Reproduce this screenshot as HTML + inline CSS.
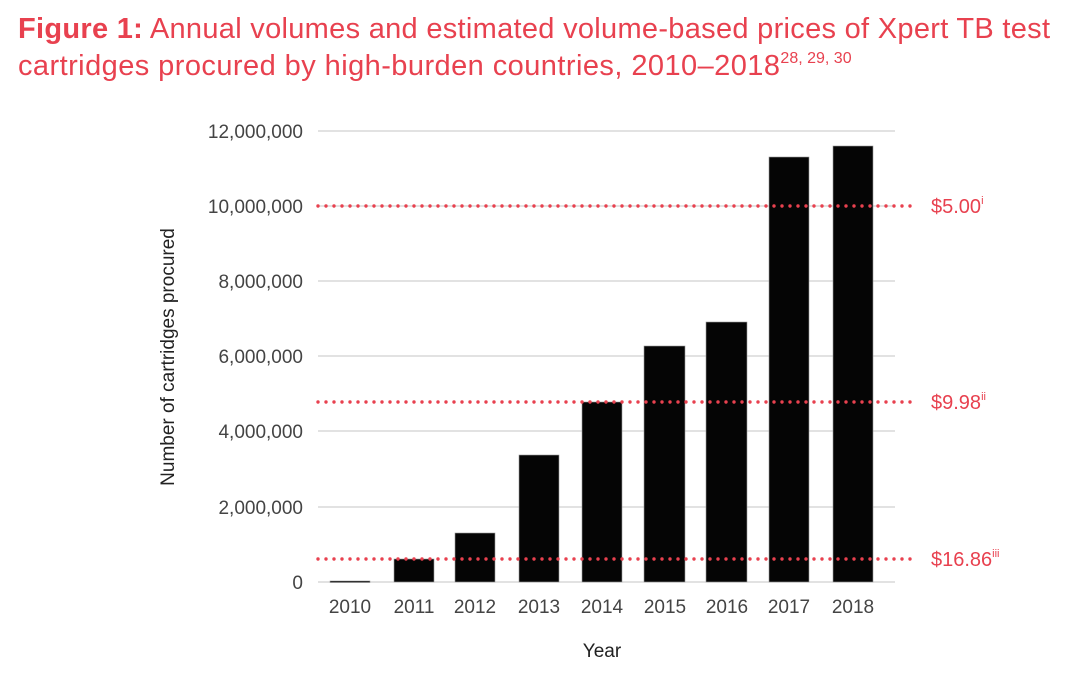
<!DOCTYPE html>
<html><head><meta charset="utf-8"><style>
body{margin:0;background:#fff;width:1080px;height:669px;overflow:hidden;font-family:"Liberation Sans",sans-serif}
</style></head><body>
<svg width="1080" height="669" xmlns="http://www.w3.org/2000/svg" font-family="Liberation Sans, sans-serif">
<text x="18" y="38" font-size="29" fill="#e8414f" textLength="1032" lengthAdjust="spacing"><tspan font-weight="bold">Figure 1:</tspan> Annual volumes and estimated volume-based prices of Xpert TB test</text>
<text x="18" y="75" font-size="29" fill="#e8414f"><tspan textLength="762" lengthAdjust="spacing">cartridges procured by high-burden countries, 2010–2018</tspan><tspan font-size="16" dy="-12">28, 29, 30</tspan></text>
<g stroke="#d9d9d9" stroke-width="1.5">
<line x1="318" x2="895" y1="131" y2="131"/><line x1="318" x2="895" y1="206" y2="206"/><line x1="318" x2="895" y1="281" y2="281"/><line x1="318" x2="895" y1="356" y2="356"/><line x1="318" x2="895" y1="431" y2="431"/><line x1="318" x2="895" y1="507" y2="507"/><line x1="318" x2="895" y1="582" y2="582"/>
</g>
<g font-size="19" fill="#444" text-anchor="end">
<text x="303" y="138">12,000,000</text><text x="303" y="213">10,000,000</text><text x="303" y="288">8,000,000</text><text x="303" y="363">6,000,000</text><text x="303" y="438">4,000,000</text><text x="303" y="514">2,000,000</text><text x="303" y="589">0</text>
</g>
<g fill="#050505" stroke="#999" stroke-width="0.6">
<rect x="330" y="581" width="40" height="1.5"/>
<rect x="394" y="559" width="40" height="23"/>
<rect x="455" y="533" width="40" height="49"/>
<rect x="519" y="455" width="40" height="127"/>
<rect x="582" y="402" width="40" height="180"/>
<rect x="644" y="346" width="41" height="236"/>
<rect x="706" y="322" width="41" height="260"/>
<rect x="769" y="157" width="40" height="425"/>
<rect x="833" y="146" width="40" height="436"/>
</g>
<g stroke="#e8414f" stroke-width="3.4" stroke-linecap="round" stroke-dasharray="0 8">
<line x1="318" x2="915" y1="206" y2="206"/><line x1="318" x2="915" y1="402" y2="402"/><line x1="318" x2="915" y1="559" y2="559"/>
</g>
<g font-size="20" fill="#e8414f">
<text x="931" y="213">$5.00<tspan font-size="11" dy="-9">i</tspan></text>
<text x="931" y="409">$9.98<tspan font-size="11" dy="-9">ii</tspan></text>
<text x="931" y="566">$16.86<tspan font-size="11" dy="-9">iii</tspan></text>
</g>
<g font-size="19" fill="#444" text-anchor="middle">
<text x="350" y="613">2010</text><text x="414" y="613">2011</text><text x="475" y="613">2012</text><text x="539" y="613">2013</text><text x="602" y="613">2014</text><text x="665" y="613">2015</text><text x="727" y="613">2016</text><text x="789" y="613">2017</text><text x="853" y="613">2018</text>
</g>
<text x="602" y="657" font-size="19" fill="#222" text-anchor="middle">Year</text>
<text transform="translate(174,357) rotate(-90)" font-size="19" fill="#222" text-anchor="middle">Number of cartridges procured</text>
</svg>
</body></html>
